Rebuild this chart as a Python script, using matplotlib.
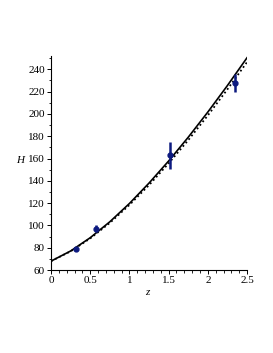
import numpy as np
import matplotlib.pyplot as plt
from matplotlib.ticker import MultipleLocator

# model curves
z_curve = [0, 0.25, 0.5, 0.75, 1.0, 1.25, 1.5, 1.75, 2.0, 2.25, 2.5]
H_solid = [68, 77.1, 89.0, 103.3, 119.7, 138.0, 157.8, 179.1, 201.7, 225.5, 250.4]
H_dotted = [68, 76.8, 88.4, 102.3, 118.4, 136.2, 155.7, 176.5, 198.7, 222.1, 246.5]

# measurements
z_obs = [0.32, 0.57, 1.52, 2.34]
H_obs = [79, 97, 163, 228]
H_err = [2, 3, 12, 8]

plt.rcParams['font.family'] = ['Liberation Serif', 'DejaVu Serif']

fig = plt.figure(figsize=(2.73, 3.53), dpi=100)
ax = fig.add_axes([0.187, 0.235, 0.718, 0.605])

ax.plot(z_curve, H_solid, color='black', lw=1.2)
ax.plot(z_curve, H_dotted, color='black', lw=1.3, ls=(0, (1, 1.5)))
ax.errorbar(z_obs, H_obs, yerr=H_err, fmt='o', color='#0d1a80', ms=3.5,
            elinewidth=1.8, capsize=0)

ax.set_xlim(0, 2.5)
ax.set_ylim(60, 251.5)
ax.xaxis.set_minor_locator(MultipleLocator(0.1))
ax.yaxis.set_major_locator(MultipleLocator(20))
ax.yaxis.set_minor_locator(MultipleLocator(10))
ax.set_xticks([0, 0.5, 1, 1.5, 2, 2.5])
ax.set_xticklabels(['0', '0.5', '1', '1.5', '2', '2.5'])

for s in ['top', 'right']:
    ax.spines[s].set_visible(False)
for s in ['left', 'bottom']:
    ax.spines[s].set_linewidth(0.8)

ax.tick_params(which='major', direction='out', length=3, width=0.7,
               labelsize=8, pad=1.5)
ax.tick_params(which='minor', direction='out', length=1.8, width=0.6)

ax.set_xlabel('z', style='italic', fontsize=8)
ax.set_ylabel('H', style='italic', fontsize=8, rotation=0)
ax.yaxis.set_label_coords(-0.158, 0.49)
ax.xaxis.set_label_coords(0.49, -0.085)

fig.savefig('out.png', dpi=100)
